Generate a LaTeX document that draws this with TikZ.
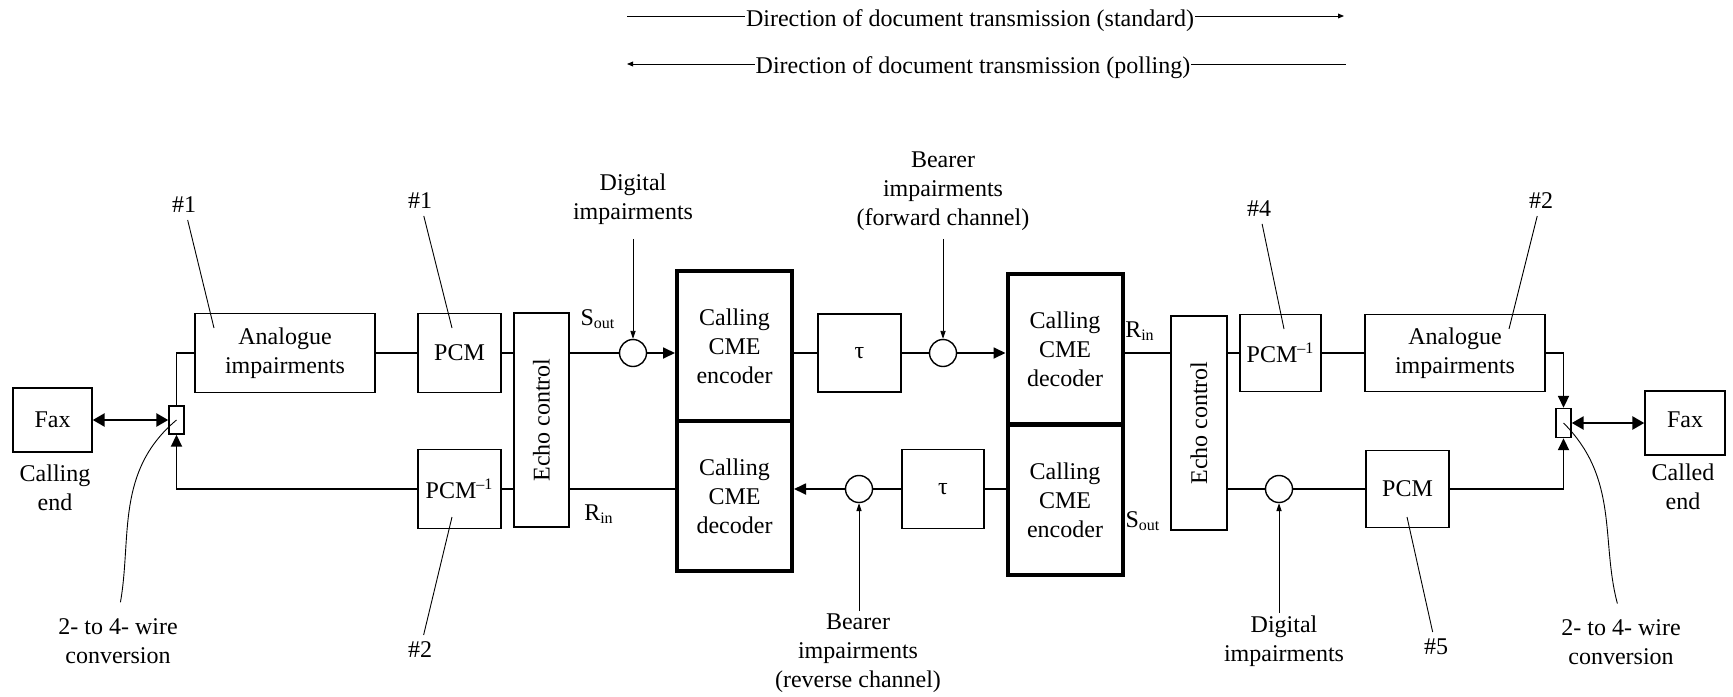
\documentclass[tikz,border=0pt]{standalone}
\usepackage{fontspec}
\setmainfont{Liberation Serif}
\usepackage{graphicx}
\usetikzlibrary{arrows.meta}
\tikzset{
    box/.style={draw, line width=0.7pt, inner sep=0pt, align=center},
    cmebox/.style={draw, line width=2pt, inner sep=0pt, align=center,
        minimum width=57.5pt, minimum height=75pt},
    sumnode/.style={draw, circle, line width=0.7pt, inner sep=0pt, minimum size=13.5pt},
    wire/.style={line width=0.9pt},
    lead/.style={line width=0.45pt},
    note/.style={align=center, inner sep=1pt},
    >={Triangle[length=6pt,width=5.5pt]},
    tip/.style={-{Triangle[length=4pt,width=2.6pt]}},
    faxlink/.style={line width=1.3pt, {Triangle[length=6pt,width=6.5pt]}-{Triangle[length=6pt,width=6.5pt]}},
}

\begin{document}
\begin{tikzpicture}[x=0.5pt, y=-0.5pt, font=\fontsize{12pt}{14.5pt}\selectfont]
    \useasboundingbox (0,0) rectangle (1733,696);

    % Direction of transmission
    \coordinate (stdA) at (627,16);
    \coordinate (stdB) at (1344,16);
    \draw[lead, -{Triangle[length=3pt,width=2.4pt]}] (stdA) -- (stdB);
    \node[fill=white, inner sep=0.5pt] (stdtxt) at (970,21) {Direction of document transmission (standard)};
    \coordinate (polA) at (627,64);
    \coordinate (polB) at (1346,64);
    \draw[lead, {Triangle[length=3pt,width=2.4pt]}-] (polA) -- (polB);
    \node[fill=white, inner sep=0.5pt] (poltxt) at (973,68) {Direction of document transmission (polling)};

    % Calling end
    \node[box, minimum width=39.5pt, minimum height=32pt] (faxL) at (52.5,420) {Fax};
    \node[note] (callingend) at (55,488) {Calling\\end};
    \node[box, minimum width=7.5pt, minimum height=14pt] (hybL) at (176.5,420) {};
    \node[box, minimum width=90pt, minimum height=39.5pt] (anaL) at (285,353) {Analogue\\impairments};
    \node[box, minimum width=41.5pt, minimum height=39.5pt] (pcmL) at (459.5,353) {PCM};
    \node[box, minimum width=41.5pt, minimum height=39.5pt] (pcmiL) at (459.5,489) {PCM\textsuperscript{–1}};
    \node[box, minimum width=27.5pt, minimum height=107pt] (echoL) at (541.5,420) {\rotatebox{90}{Echo control}};
    \node[sumnode] (sumA) at (633,353) {};

    % CME pair, calling side
    \node[cmebox] (encL) at (734.5,346) {Calling\\CME\\encoder};
    \node[cmebox] (decL) at (734.5,496) {Calling\\CME\\decoder};

    % Bearer
    \node[box, minimum width=41.5pt, minimum height=39pt] (tauF) at (859.5,353) {τ};
    \node[sumnode] (sumB) at (943,353) {};
    \node[box, minimum width=41pt, minimum height=39.5pt] (tauR) at (943,489) {τ};
    \node[sumnode] (sumC) at (859,489) {};

    % CME pair, called side
    \node[cmebox] (decR) at (1065,349) {Calling\\CME\\decoder};
    \node[cmebox] (encR) at (1065,500) {Calling\\CME\\encoder};

    % Called end
    \node[box, minimum width=28pt, minimum height=107pt] (echoR) at (1199,423) {\rotatebox{90}{Echo control}};
    \node[box, minimum width=40.5pt, minimum height=38.5pt] (pcmiR) at (1280.5,353) {PCM\textsuperscript{–1}};
    \node[box, minimum width=90pt, minimum height=38.5pt] (anaR) at (1455,353) {Analogue\\impairments};
    \node[sumnode] (sumD) at (1279,489) {};
    \node[box, minimum width=41.5pt, minimum height=38.5pt] (pcmR) at (1407.5,489) {PCM};
    \node[box, minimum width=7.5pt, minimum height=14.5pt] (hybR) at (1563.5,423) {};
    \node[box, minimum width=40pt, minimum height=32pt] (faxR) at (1685,423) {\raisebox{3.5pt}{Fax}};
    \node[note] (calledend) at (1683,487) {Called\\end};

    % Port labels
    \node[note] (soutL) at (598,319) {S\textsubscript{out}};
    \node[note] (rinL) at (599,514) {R\textsubscript{in}};
    \node[note] (rinR) at (1140,331) {R\textsubscript{in}};
    \node[note] (soutR) at (1143,521) {S\textsubscript{out}};

    % Forward path
    \draw[faxlink] (faxL) -- (hybL);
    \draw[wire] (hybL.north) |- (anaL.west);
    \draw[wire] (anaL) -- (pcmL);
    \draw[wire] (pcmL.east) -- (pcmL.east -| echoL.west);
    \draw[wire] (pcmL.east -| echoL.east) -- (sumA);
    \draw[wire, ->] (sumA) -- (sumA -| encL.west);
    \draw[wire] (encL.east |- tauF) -- (tauF);
    \draw[wire] (tauF) -- (sumB);
    \draw[wire, ->] (sumB) -- (sumB -| decR.west);
    \draw[wire] (decR.east |- pcmiR) -- (echoR.west |- pcmiR);
    \draw[wire] (echoR.east |- pcmiR) -- (pcmiR);
    \draw[wire] (pcmiR) -- (anaR);
    \draw[wire, ->] (anaR.east) -| (hybR.north);
    \draw[faxlink] (hybR) -- (faxR);

    % Reverse path
    \draw[wire, ->] (pcmR.east) -| (hybR.south);
    \draw[wire] (sumD) -- (pcmR);
    \draw[wire] (echoR.east |- sumD) -- (sumD);
    \draw[wire] (encR.west |- tauR) -- (tauR);
    \draw[wire] (tauR) -- (sumC);
    \draw[wire, ->] (sumC) -- (sumC -| decL.east);
    \draw[wire] (decL.west |- pcmiL) -- (echoL.east |- pcmiL);
    \draw[wire] (echoL.west |- pcmiL) -- (pcmiL);
    \draw[wire, ->] (pcmiL.west) -| (hybL.south);

    % Impairment inputs
    \node[note] (digA) at (633,199) {Digital\\impairments};
    \draw[lead, tip, shorten <=6pt] (digA) -- (sumA);
    \node[note] (brgF) at (943,191) {Bearer\\impairments\\(forward channel)};
    \draw[lead, tip, shorten <=3pt] (brgF) -- (sumB);
    \node[note] (brgR) at (858,653) {Bearer\\impairments\\(reverse channel)};
    \draw[lead, tip] (brgR.north -| sumC) -- (sumC);
    \node[note] (digB) at (1284,641) {Digital\\impairments};
    \draw[lead, tip] (digB.north -| sumD) -- (sumD);

    % Reference points
    \node (refA) at (184,205) {\#1};
    \coordinate (refAend) at (214,328);
    \draw[lead] (refA) -- (refAend);
    \node (refB) at (420,201) {\#1};
    \coordinate (refBend) at (452,328);
    \draw[lead] (refB) -- (refBend);
    \node (refC) at (420,650) {\#2};
    \coordinate (refCend) at (452,517);
    \draw[lead] (refC) -- (refCend);
    \node (refD) at (1259,209) {\#4};
    \coordinate (refDend) at (1284,329);
    \draw[lead] (refD) -- (refDend);
    \node (refE) at (1541,201) {\#2};
    \coordinate (refEend) at (1509,329);
    \draw[lead] (refE) -- (refEend);
    \node (refF) at (1436,647) {\#5};
    \coordinate (refFend) at (1407,517);
    \draw[lead] (refF) -- (refFend);

    % 2- to 4- wire conversion
    \node[note] (convL) at (118,641) {2- to 4- wire\\conversion};
    \draw[lead, shorten >=7pt] (hybL.center) to[out=220, in=80] (convL.north);
    \node[note] (convR) at (1621,642) {2- to 4- wire\\conversion};
    \draw[lead, shorten >=7pt] (hybR.center) to[out=-45, in=105] (convR.north);

\end{tikzpicture}
\end{document}
